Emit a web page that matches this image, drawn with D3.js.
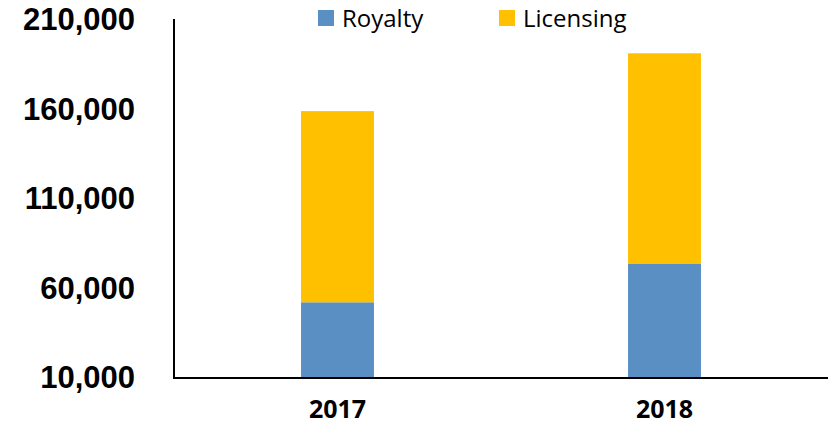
<!DOCTYPE html>
<html>
<head>
<meta charset="utf-8">
<script src="https://cdn.jsdelivr.net/npm/d3@7"></script>
<style>
  body { margin: 0; background: #fff; }
  svg { display: block; }
  .y-axis text { font-family: "Liberation Sans", Arial, sans-serif; font-weight: bold; font-size: 31px; fill: #000; }
  .x-axis text { font-family: "Open Sans", sans-serif; font-weight: bold; font-size: 25px; fill: #000; }
  .legend text { font-family: "Open Sans", sans-serif; font-size: 24px; fill: #000; }
</style>
</head>
<body>
<div id="chart-area"></div>
<script>
// data
var years = ["2017", "2018"];
var royalty = [52300, 73700];
var licensing = [106800, 117700];
var seriesNames = ["Royalty", "Licensing"];
var seriesColors = ["#5A8FC4", "#FFC000"];
var yTicks = [10000, 60000, 110000, 160000, 210000];

var width = 831, height = 428;
var margin = {top: 20, right: 3, bottom: 50, left: 174};
var yMin = 10000, yMax = 210000;

var svg = d3.select("#chart-area").append("svg")
    .attr("width", width)
    .attr("height", height);

var x = d3.scaleBand()
    .domain(years)
    .range([margin.left, width - margin.right])
    .paddingInner(0.777)
    .paddingOuter(0.3885);

var y = d3.scaleLinear()
    .domain([yMin, yMax])
    .range([height - margin.bottom, margin.top]);

// stack the two series (axis starts at 10,000 so bottoms get cut there)
var rows = years.map(function(d, i) {
    return {year: d, Royalty: royalty[i], Licensing: licensing[i]};
});
var stacked = d3.stack().keys(seriesNames)(rows);

svg.selectAll(".series")
    .data(stacked)
    .enter().append("g")
    .attr("class", "series")
    .attr("fill", function(d, i) { return seriesColors[i]; })
    .selectAll("rect")
    .data(function(d) { return d; })
    .enter().append("rect")
    .attr("x", function(d) { return x(d.data.year); })
    .attr("width", x.bandwidth())
    .attr("y", function(d) { return y(d[1]); })
    .attr("height", function(d) { return y(Math.max(d[0], yMin)) - y(d[1]); });

// axes
var yAxis = d3.axisLeft(y)
    .tickValues(yTicks)
    .tickFormat(d3.format(","))
    .tickSize(0)
    .tickPadding(39);

svg.append("g")
    .attr("class", "y-axis")
    .attr("transform", "translate(" + margin.left + ",0)")
    .call(yAxis)
    .call(function(g) { g.select(".domain").remove(); });

var xAxis = d3.axisBottom(x)
    .tickSize(0)
    .tickPadding(22);

svg.append("g")
    .attr("class", "x-axis")
    .attr("transform", "translate(0," + y(yMin) + ")")
    .call(xAxis)
    .call(function(g) { g.select(".domain").remove(); });

svg.append("line")
    .attr("x1", margin.left).attr("x2", margin.left)
    .attr("y1", y(yMax) - 1).attr("y2", y(yMin) + 1)
    .attr("stroke", "#000").attr("stroke-width", 2);

svg.append("line")
    .attr("x1", margin.left - 1).attr("x2", width - margin.right)
    .attr("y1", y(yMin)).attr("y2", y(yMin))
    .attr("stroke", "#000").attr("stroke-width", 2);

// legend
var legendX = [318, 499];
var legend = svg.append("g").attr("class", "legend");
var item = legend.selectAll("g")
    .data(seriesNames)
    .enter().append("g")
    .attr("transform", function(d, i) { return "translate(" + legendX[i] + ",10)"; });

item.append("rect")
    .attr("width", 16)
    .attr("height", 16)
    .attr("fill", function(d, i) { return seriesColors[i]; });

item.append("text")
    .attr("x", 24)
    .attr("y", 17)
    .text(function(d) { return d; });
</script>
</body>
</html>
